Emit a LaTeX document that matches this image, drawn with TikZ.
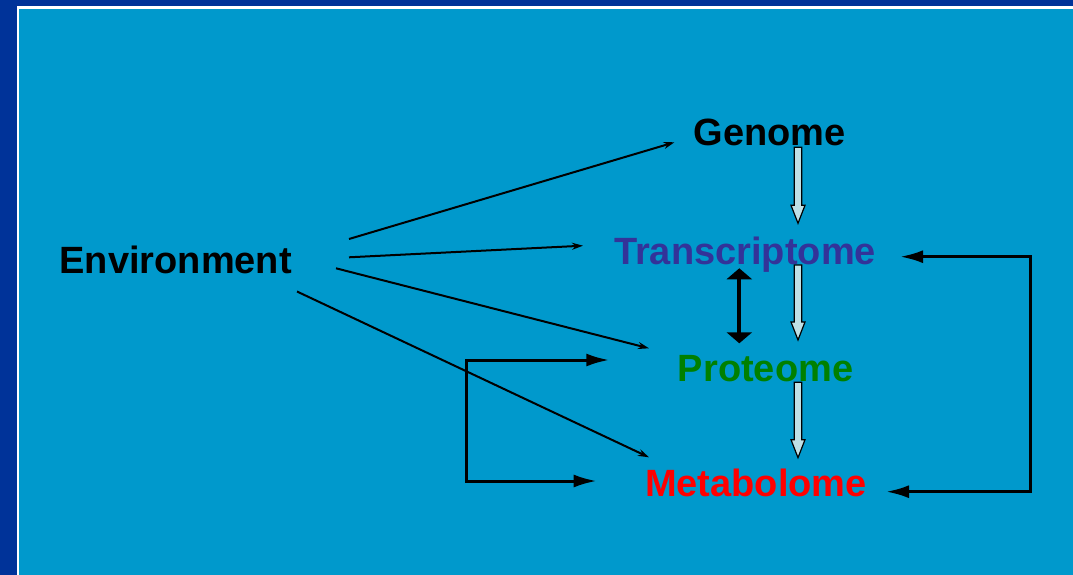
\documentclass[tikz,border=0pt]{standalone}
\usepackage{fontspec}
\setmainfont{Liberation Sans}
\usetikzlibrary{arrows.meta,calc}
\definecolor{frameblue}{HTML}{003399}
\definecolor{bgblue}{HTML}{0099CC}
\definecolor{trblue}{HTML}{333399}
\definecolor{progreen}{HTML}{008000}
\definecolor{pale}{RGB}{190,224,230}
\tikzset{
  term/.style={font=\fontsize{38}{45}\selectfont\bfseries, inner sep=0pt, anchor=base},
  thinarrow/.style={line width=2pt, -{Stealth[length=11pt,width=7pt]}},
  looparrow/.style={line width=3pt, {Latex[length=23pt,width=13pt]}-{Latex[length=23pt,width=13pt]}},
  dblarrow/.style={line width=4pt, {Triangle[length=11pt,width=25pt]}-{Triangle[length=11pt,width=25pt]}},
  blockarrow/.style={fill=pale, draw=black, line width=1.2pt, line join=miter},
}
\newcommand\blockarr[2]{%
  \draw[blockarrow] ($(#1)+(-3.7,0)$) -- ($(#2)+(-3.7,-18)$) -- ($(#2)+(-7,-18)$) -- (#2)
    -- ($(#2)+(7,-18)$) -- ($(#2)+(3.7,-18)$) -- ($(#1)+(3.7,0)$) -- cycle;}
\begin{document}
\begin{tikzpicture}[x=1pt,y=-1pt]
  \useasboundingbox (0,0) rectangle (1073,575);
  % background frame
  \fill[frameblue] (0,0) rectangle (1073,575);
  \fill[white] (16.5,6.5) rectangle (1073,575);
  \fill[bgblue] (18.8,8.8) rectangle (1073,575);

  % terms
  \node[term] (env) at (175.7,273.3) {Environment};
  \node[term] (gen) at (769.5,146) {Genome};
  \node[term, text=trblue] (tra) at (745,264) {Transcriptome};
  \node[term, text=progreen] (pro) at (765.5,381) {Proteome};
  \node[term, text=red] (met) at (756,496.7) {Metabolome};

  % connector end points
  \coordinate (e1) at (349,239);
  \coordinate (e2) at (349,257.3);
  \coordinate (e3) at (336,268.3);
  \coordinate (e4) at (297,291.5);
  \coordinate (ig) at (674.5,142.3);
  \coordinate (it) at (583,245.7);
  \coordinate (ip) at (649,348.3);
  \coordinate (im) at (649,457.3);

  \draw[thinarrow] (e1) -- (ig);
  \draw[thinarrow] (e2) -- (it);
  \draw[thinarrow] (e3) -- (ip);
  \draw[thinarrow] (e4) -- (im);

  % block arrows
  \coordinate (g1) at (798,147.3);  \coordinate (g2) at (798,223.3);
  \coordinate (t1) at (798,265);    \coordinate (t2) at (798,340);
  \coordinate (p1) at (798,382.3);  \coordinate (p2) at (798,457.7);
  \blockarr{g1}{g2}
  \blockarr{t1}{t2}
  \blockarr{p1}{p2}

  % transcriptome <-> proteome
  \coordinate (d1) at (739.3,268.3);
  \coordinate (d2) at (739.3,343.3);
  \draw[dblarrow] (d1) -- (d2);

  % left loop
  \coordinate (lp) at (609.3,360);
  \coordinate (lm) at (596.7,481);
  \coordinate (la) at (466.7,360);
  \coordinate (lb) at (466.7,481);
  \draw[looparrow] (lp) -- (la) -- (lb) -- (lm);

  % right loop
  \coordinate (rt) at (900,256.7);
  \coordinate (rm) at (886,491.7);
  \coordinate (ra) at (1030,256.7);
  \coordinate (rb) at (1030,491.7);
  \draw[looparrow] (rt) -- (ra) -- (rb) -- (rm);
\end{tikzpicture}
\end{document}
